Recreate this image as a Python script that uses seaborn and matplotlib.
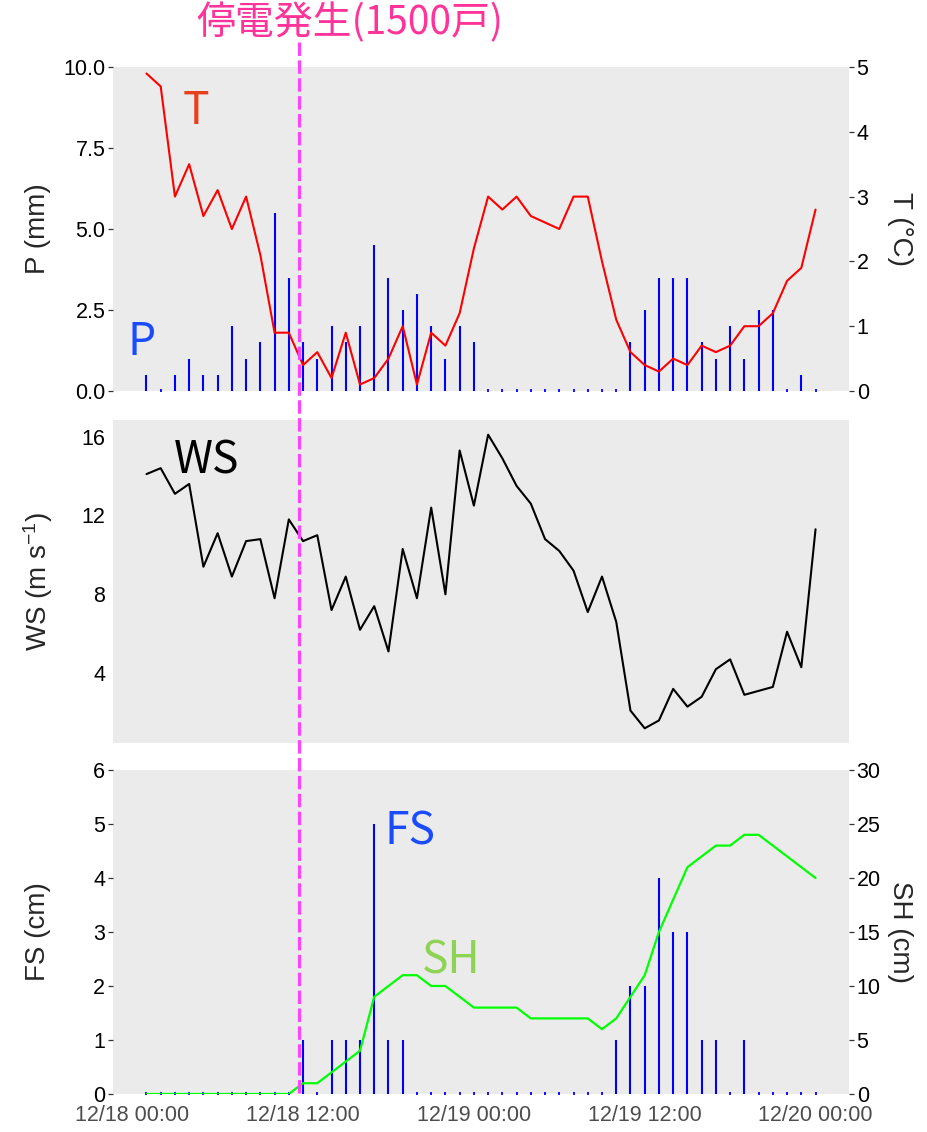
import matplotlib
matplotlib.use("Agg")
import matplotlib.pyplot as plt
import matplotlib.transforms as mtransforms
from matplotlib.lines import Line2D
import seaborn as sns

# ---------------- data ----------------
hours = list(range(1, 49))
T = [4.9, 4.7, 3.0, 3.5, 2.7, 3.1, 2.5, 3.0, 2.1, 0.9, 0.9, 0.4, 0.6, 0.2, 0.9, 0.1,
     0.2, 0.5, 1.0, 0.1, 0.9, 0.7, 1.2, 2.2, 3.0, 2.8, 3.0, 2.7, 2.6, 2.5, 3.0, 3.0,
     2.0, 1.1, 0.6, 0.4, 0.3, 0.5, 0.4, 0.7, 0.6, 0.7, 1.0, 1.0, 1.2, 1.7, 1.9, 2.8]
P = [0.5, 0.0, 0.5, 1.0, 0.5, 0.5, 2.0, 1.0, 1.5, 5.5, 3.5, 1.5, 1.0, 2.0, 1.5, 2.0,
     4.5, 3.5, 2.5, 3.0, 2.0, 1.0, 2.0, 1.5, 0.0, 0.0, 0.0, 0.0, 0.0, 0.0, 0.0, 0.0,
     0.0, 0.0, 1.5, 2.5, 3.5, 3.5, 3.5, 1.5, 1.0, 2.0, 1.0, 2.5, 2.5, 0.0, 0.5, 0.0]
WS = [14.1, 14.4, 13.1, 13.6, 9.4, 11.1, 8.9, 10.7, 10.8, 7.8, 11.8, 10.7, 11.0, 7.2, 8.9, 6.2,
      7.4, 5.1, 10.3, 7.8, 12.4, 8.0, 15.3, 12.5, 16.1, 14.9, 13.5, 12.6, 10.8, 10.2, 9.2, 7.1,
      8.9, 6.6, 2.1, 1.2, 1.6, 3.2, 2.3, 2.8, 4.2, 4.7, 2.9, 3.1, 3.3, 6.1, 4.3, 11.3]
SH = [0, 0, 0, 0, 0, 0, 0, 0, 0, 0, 0, 1, 1, 2, 3, 4,
      9, 10, 11, 11, 10, 10, 9, 8, 8, 8, 8, 7, 7, 7, 7, 7,
      6, 7, 9, 11, 15, 18, 21, 22, 23, 23, 24, 24, 23, 22, 21, 20]
FS = [0, 0, 0, 0, 0, 0, 0, 0, 0, 0, 0, 1, 0, 1, 1, 1,
      5, 1, 1, 0, 0, 0, 0, 0, 0, 0, 0, 0, 0, 0, 0, 0,
      0, 1, 2, 2, 4, 3, 3, 1, 1, 0, 1, 0, 0, 0, 0, 0]

x_tick_hours = [0, 12, 24, 36, 48]
x_tick_labels = ["12/18 00:00", "12/18 12:00", "12/19 00:00", "12/19 12:00", "12/20 00:00"]
p_ticks = [0.0, 2.5, 5.0, 7.5, 10.0]
p_tick_labels = ["0.0", "2.5", "5.0", "7.5", "10.0"]
t_ticks = [0, 1, 2, 3, 4, 5]
ws_ticks = [4, 8, 12, 16]
fs_ticks = [0, 1, 2, 3, 4, 5, 6]
sh_ticks = [0, 5, 10, 15, 20, 25, 30]
outage_hour = 11.75
outage_label = "停電発生(1500戸)"

# ---------------- style ----------------
sns.set_theme(style="white", rc={"axes.facecolor": "#EBEBEB", "axes.grid": False})
plt.rcParams["font.family"] = ["Liberation Sans", "DejaVu Sans"]
plt.rcParams["mathtext.default"] = "regular"

W, H = 927, 1132
fig = plt.figure(figsize=(W / 100, H / 100), dpi=100)
fig.patch.set_facecolor("white")

left, width = 113 / W, 736 / W
ax1 = fig.add_axes([left, 1 - 391 / H, width, 324 / H])
ax2 = fig.add_axes([left, 1 - 743 / H, width, 323 / H])
ax3 = fig.add_axes([left, 1 - 1094 / H, width, 324 / H])

pad = 0.05 * (hours[-1] - hours[0])
xlim = (hours[0] - pad, hours[-1] + pad)

BLUE = "#0000FF"
TICK_KW = dict(length=3.5, width=0.9, color="#333333", labelsize=15.5, pad=2)


def style_axis(ax, show_xlabels):
    for s in ax.spines.values():
        s.set_visible(False)
    ax.set_xlim(*xlim)
    ax.set_xticks(x_tick_hours)
    if show_xlabels:
        ax.set_xticklabels(x_tick_labels, color="#4D4D4D")
    else:
        ax.set_xticklabels([])
    ax.tick_params(axis="both", **TICK_KW)
    ax.tick_params(axis="x", pad=4.5)
    ax.tick_params(axis="y", labelcolor="black")


def style_twin(ax):
    for s in ax.spines.values():
        s.set_visible(False)
    ax.patch.set_visible(False)
    ax.tick_params(axis="y", **TICK_KW)
    ax.tick_params(axis="y", labelcolor="black")
    ax.grid(False)


def draw_bars(ax, values):
    lc = ax.vlines(hours, 0, values, color=BLUE, linewidth=1.5)
    lc.set_capstyle("butt")
    zero_h = [h for h, v in zip(hours, values) if v == 0]
    ax.plot(zero_h, [0] * len(zero_h), linestyle="none", marker="|",
            markersize=3.2, markeredgewidth=1.3, color=BLUE, clip_on=True)


label_font = 20
inline_font = ["Noto Sans CJK JP", "DejaVu Sans"]

# ---------------- top panel: P bars + T line ----------------
draw_bars(ax1, P)
ax1.set_ylim(0, 10)
ax1.set_yticks(p_ticks)
ax1.set_yticklabels(p_tick_labels)
style_axis(ax1, False)
ax1.set_ylabel("P (mm)", fontsize=label_font)
ax1.yaxis.label.set_va("center")
ax1.yaxis.set_label_coords((38 - 113) / 736, 0.5)

ax1t = ax1.twinx()
sns.lineplot(x=hours, y=T, ax=ax1t, color="#FF0000", linewidth=1.5)
ax1t.set_ylim(0, 5)
ax1t.set_yticks(t_ticks)
ax1t.set_xlim(*xlim)
style_twin(ax1t)
ax1t.set_ylabel("T (°C)", fontsize=label_font, rotation=270)
ax1t.yaxis.label.set_va("center")
ax1t.yaxis.set_label_coords((900 - 113) / 736, 0.5)

ax1t.text(4.5, 4.32, "T", color="#E8401C", fontsize=32, family=inline_font,
          ha="center", va="center")
ax1.text(0.63, 1.5, "P", color="#1A4BFF", fontsize=32, family=inline_font,
         ha="center", va="center")

# ---------------- middle panel: WS ----------------
sns.lineplot(x=hours, y=WS, ax=ax2, color="black", linewidth=1.5)
ws_pad = 0.05 * (max(WS) - min(WS))
ax2.set_ylim(min(WS) - ws_pad, max(WS) + ws_pad)
ax2.set_yticks(ws_ticks)
style_axis(ax2, False)
ax2.set_ylabel("WS (m s$^{-1}$)", fontsize=label_font)
ax2.yaxis.label.set_va("center")
ax2.yaxis.set_label_coords((38 - 113) / 736, 0.5)
ax2.text(5.2, 14.8, "WS", color="black", fontsize=32, family=inline_font,
         ha="center", va="center")

# ---------------- bottom panel: FS bars + SH line ----------------
draw_bars(ax3, FS)
ax3.set_ylim(0, 6)
ax3.set_yticks(fs_ticks)
style_axis(ax3, True)
ax3.set_ylabel("FS (cm)", fontsize=label_font)
ax3.yaxis.label.set_va("center")
ax3.yaxis.set_label_coords((38 - 113) / 736, 0.5)

ax3t = ax3.twinx()
sns.lineplot(x=hours, y=SH, ax=ax3t, color="#00FF00", linewidth=1.6)
ax3t.set_ylim(0, 30)
ax3t.set_yticks(sh_ticks)
ax3t.set_xlim(*xlim)
style_twin(ax3t)
ax3t.set_ylabel("SH (cm)", fontsize=label_font, rotation=270)
ax3t.yaxis.label.set_va("center")
ax3t.yaxis.set_label_coords((900 - 113) / 736, 0.5)

ax3.text(19.5, 4.87, "FS", color="#1A4BFF", fontsize=32, family=inline_font,
         ha="center", va="center")
ax3.text(22.4, 2.47, "SH", color="#8ED354", fontsize=32, family=inline_font,
         ha="center", va="center")

for a in (ax1, ax2, ax3):
    a.set_xlabel("")

# ---------------- outage marker ----------------
trans = mtransforms.blended_transform_factory(ax1.transData, fig.transFigure)
outage_line = Line2D([outage_hour, outage_hour], [1 - 42 / H, 1 - 1096 / H],
                     transform=trans, color="#FF44FF", linewidth=2.3,
                     linestyle=(0, (4.2, 1.4)), zorder=10)
fig.add_artist(outage_line)
fig.text(350 / W, 1 - 23 / H, outage_label, color="#FF3399", fontsize=28,
         family=inline_font, ha="center", va="center")

fig.savefig("out.png", dpi=100)
